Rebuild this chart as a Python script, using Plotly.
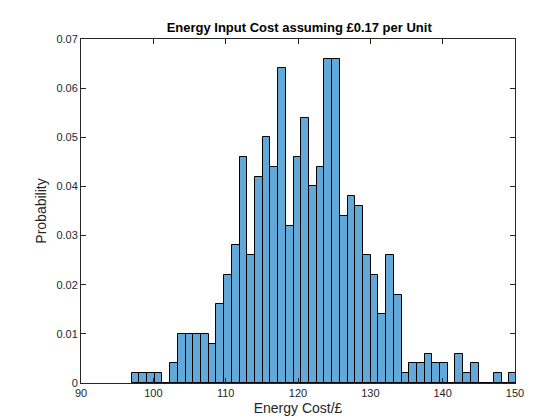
import plotly.graph_objects as go

bin_start = 97.0
bin_width = 1.066
probability = [0.002, 0.002, 0.002, 0.002, 0.0, 0.004, 0.010, 0.010, 0.010, 0.010,
               0.008, 0.016, 0.022, 0.028, 0.046, 0.026, 0.042, 0.050, 0.044, 0.064,
               0.032, 0.046, 0.054, 0.040, 0.044, 0.066, 0.066, 0.034, 0.038, 0.036,
               0.026, 0.022, 0.014, 0.026, 0.018, 0.002, 0.004, 0.004, 0.006, 0.004,
               0.004, 0.0, 0.006, 0.002, 0.004, 0.0, 0.0, 0.002, 0.0, 0.002]
y_tickvals = [0, 0.01, 0.02, 0.03, 0.04, 0.05, 0.06, 0.07]
y_ticktext = ["0", "0.01", "0.02", "0.03", "0.04", "0.05", "0.06", "0.07"]
centers = [bin_start + bin_width * (i + 0.5) for i in range(len(probability))]

fig = go.Figure(go.Bar(x=centers, y=probability, width=bin_width,
                       marker=dict(color="#62a8d8", line=dict(color="black", width=1))))

axis_style = dict(showline=True, linecolor="#262626", linewidth=1, mirror="ticks",
                  ticks="inside", ticklen=5, tickcolor="#262626", showgrid=False,
                  zeroline=False, tickfont=dict(size=11, color="#262626"))
fig.update_layout(
    width=560, height=420,
    margin=dict(l=73, r=53, t=31, b=45),
    paper_bgcolor="white", plot_bgcolor="white",
    font=dict(family="Liberation Sans, Arial", color="#262626"),
    showlegend=False, bargap=0,
    title=dict(text="<b>Energy Input Cost assuming £0.17 per Unit</b>", x=0.52, y=0.965,
               xanchor="center", font=dict(size=13, color="black")),
)
fig.update_xaxes(range=[90, 150], dtick=10, title=dict(text="Energy Cost/£", standoff=4,
                 font=dict(size=14)), **axis_style)
fig.update_yaxes(range=[0, 0.07], tickvals=y_tickvals, ticktext=y_ticktext,
                 title=dict(text="Probability", standoff=6, font=dict(size=14)), **axis_style)

fig.write_html("out.html")
